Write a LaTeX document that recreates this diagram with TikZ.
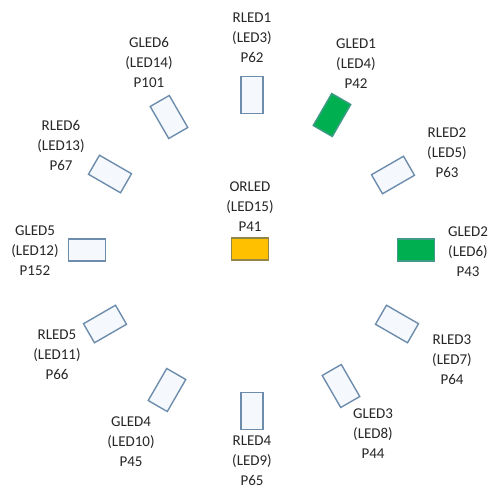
\documentclass[tikz,border=0pt]{standalone}
\usepackage{fontspec}
\setmainfont{Carlito}
\definecolor{ledline}{HTML}{6E8DAD}
\definecolor{ledfill}{HTML}{F5F9FD}
\definecolor{ledgreen}{HTML}{00B050}
\definecolor{ledorange}{HTML}{FFC000}
\def\lw{1.4pt}

\begin{document}
\begin{tikzpicture}[x=1pt, y=-1pt,
	led/.style={rectangle,draw=ledline,fill=ledfill,line width=\lw,inner sep=0,minimum width=22pt,minimum height=37pt},
	tag/.style={align=center,inner sep=0,text=black!85,font=\fontsize{15}{20}\selectfont}]
		\useasboundingbox (0,0) rectangle (490,495);
		
		\node (RA) at (252,95) [led] {};
		\node (GA) at (332,115) [led, fill=ledgreen, draw=ledline!60!ledgreen, rotate=-30] {};
		\node (RB) at (393,175) [led, rotate=-60] {};
		\node (GB) at (416,250) [led, fill=ledgreen, draw=ledline!60!ledgreen, rotate=-90] {};
		\node (RC) at (397,324) [led, rotate=60] {};
		\node (GC) at (341,386) [led, rotate=30] {};
		\node (RD) at (252,411) [led] {};
		\node (GD) at (167,390) [led, rotate=-30] {};
		\node (RE) at (105,324) [led, rotate=-60] {};
		\node (GE) at (87,250) [led, rotate=90] {};
		\node (RF) at (110,174) [led, rotate=60] {};
		\node (GF) at (169,117) [led, rotate=30] {};
		\node (OR) at (250,249) [led, fill=ledorange, draw=ledline!50!ledorange!80!black, rotate=90] {};
		
		\node (LRA) at (252,38) [tag] {RLED1\\(LED3)\\P62};
		\node (LGA) at (356,64) [tag] {GLED1\\(LED4)\\P42};
		\node (LRB) at (447,153) [tag] {RLED2\\(LED5)\\P63};
		\node (LGB) at (468,252) [tag] {GLED2\\(LED6)\\P43};
		\node (LRC) at (452,360) [tag] {RLED3\\(LED7)\\P64};
		\node (LGC) at (373,434) [tag] {GLED3\\(LED8)\\P44};
		\node (LRD) at (252,461) [tag] {RLED4\\(LED9)\\P65};
		\node (LGD) at (131,442) [tag] {GLED4\\(LED10)\\P45};
		\node (LRE) at (57,355) [tag] {RLED5\\(LED11)\\P66};
		\node (LGE) at (35,251) [tag] {GLED5\\(LED12)\\P152};
		\node (LRF) at (61,145) [tag] {RLED6\\(LED13)\\P67};
		\node (LGF) at (149,62) [tag] {GLED6\\(LED14)\\P101};
		\node (LOR) at (250,207) [tag] {ORLED\\(LED15)\\P41};
		
	\end{tikzpicture}
\end{document}
